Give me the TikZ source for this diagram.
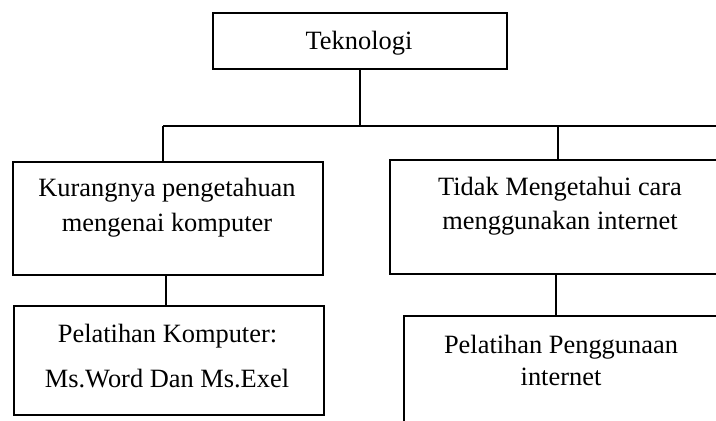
\documentclass[tikz,border=0pt]{standalone}
\usepackage{fontspec}
\setmainfont{Liberation Serif}
\begin{document}
\begin{tikzpicture}[x=1pt,y=-1pt,
  box/.style={draw,line width=1.6pt,rectangle,inner sep=0pt,anchor=north west},
  txt/.style={anchor=base,inner sep=0pt,font=\fontsize{26.4}{30}\selectfont},
  conn/.style={line width=1.6pt}]
\useasboundingbox (0,0) rectangle (716,421);
\clip (0,0) rectangle (716,421);
% boxes
\node[box,minimum width=294pt,minimum height=56pt] (top) at (212,12) {};
\node[box,minimum width=310pt,minimum height=113pt] (kur) at (12,161) {};
\node[box,minimum width=360pt,minimum height=114pt] (tid) at (389,159) {};
\node[box,minimum width=310pt,minimum height=109pt] (pk) at (13,305) {};
\node[box,minimum width=360pt,minimum height=140pt] (pi) at (403,315) {};
% texts
\node[txt] (t1) at (359,49) {Teknologi};
\node[txt] (t2) at (167,196) {Kurangnya pengetahuan};
\node[txt] (t3) at (167,231) {mengenai komputer};
\node[txt] (t4) at (560,195) {Tidak Mengetahui cara};
\node[txt] (t5) at (560,229) {menggunakan internet};
\node[txt] (t6) at (167.5,342) {Pelatihan Komputer:};
\node[txt] (t7) at (167,387) {Ms.Word Dan Ms.Exel};
\node[txt] (t8) at (561,353) {Pelatihan Penggunaan};
\node[txt] (t9) at (561,385) {internet};
% connectors
\coordinate (hl) at (163,126);
\coordinate (hr) at (730,126);
\coordinate (hj) at (558,126);
\coordinate (ml) at (166,0);
\coordinate (mr) at (556,0);
\draw[conn] (top.south) -- (top.south |- hl);
\draw[conn] (hl) -- (hr);
\draw[conn] (hl) -- (hl |- kur.north);
\draw[conn] (hj) -- (hj |- tid.north);
\draw[conn] (ml |- kur.south) -- (ml |- pk.north);
\draw[conn] (mr |- tid.south) -- (mr |- pi.north);
\end{tikzpicture}
\end{document}
